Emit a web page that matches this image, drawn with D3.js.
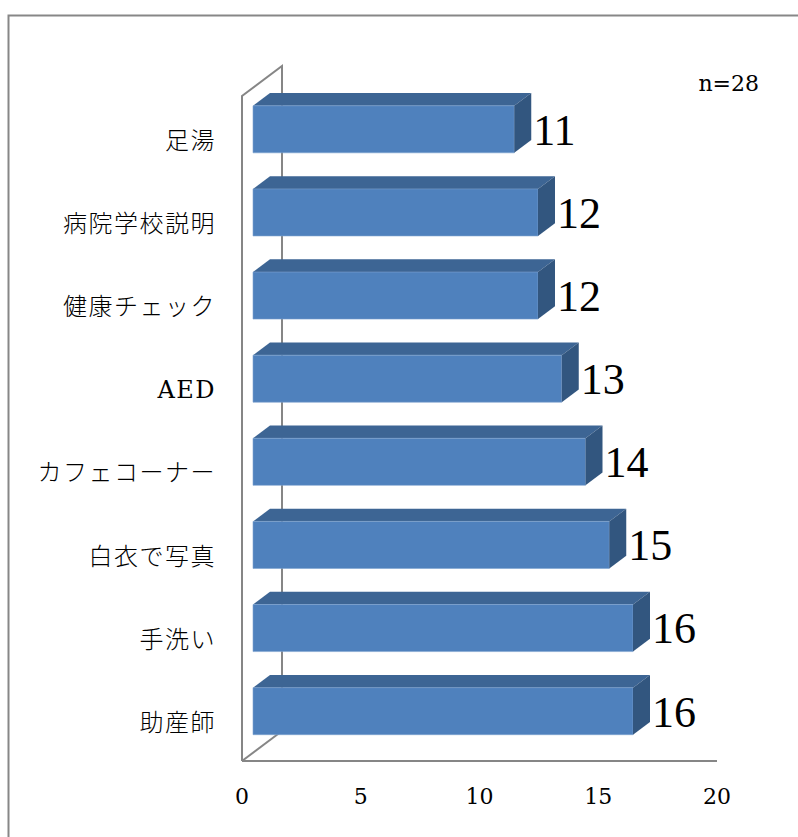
<!DOCTYPE html>
<html>
<head>
<meta charset="utf-8">
<script src="https://cdn.jsdelivr.net/npm/d3@7"></script>
<style>
  body { margin: 0; background: #fff; }
</style>
</head>
<body>
<script>
const categories = ['足湯', '病院学校説明', '健康チェック', 'AED', 'カフェコーナー', '白衣で写真', '手洗い', '助産師'];
const values = [11, 12, 12, 13, 14, 15, 16, 16];
const ticks = [0, 5, 10, 15, 20];
const note = 'n=28';

const dims = { width: 798, height: 837 };
const plot = { left: 242, right: 717, top: 96, bottom: 761 };
const depth = { x: 40, y: 30, front: 0.275, back: 0.7 };

const svg = d3.select('body')
  .append('svg')
  .attr('width', dims.width)
  .attr('height', dims.height)

// outer frame, runs off the right and bottom edge
svg.append('rect')
  .attr('x', 8.5)
  .attr('y', 15.5)
  .attr('width', 900)
  .attr('height', 900)
  .attr('fill', 'none')
  .attr('stroke', '#878787')
  .attr('stroke-width', 2)

const x = d3.scaleLinear()
  .domain([0, 20])
  .range([plot.left, plot.right]);

const y = d3.scaleBand()
  .domain(categories)
  .range([plot.top, plot.bottom])
  .paddingInner(0.434)
  .paddingOuter(0.217);

// point on the floor/wall at depth d (0 = front, 1 = back wall)
const proj = (v, yy, d) => [x(v) + d * depth.x, yy - d * depth.y];
const line = d3.line();

// side wall and floor edges
const wall = svg.append('g')
  .attr('fill', 'none')
  .attr('stroke', '#868686')
  .attr('stroke-width', 2)

wall.append('path')
  .attr('d', line([proj(0, plot.bottom, 0), proj(0, plot.top, 0), proj(0, plot.top, 1), proj(0, plot.bottom, 1)]))
wall.append('path')
  .attr('d', line([proj(0, plot.bottom, 0), proj(0, plot.bottom, 1)]))
wall.append('path')
  .attr('d', line([proj(0, plot.bottom, 0), proj(20, plot.bottom, 0)]))

const bars = svg.append('g')
  .selectAll('g')
  .data(categories.map((c, i) => ({ name: c, value: values[i] })))
  .enter()
  .append('g')

const f = depth.front;
const b = depth.back;

bars.append('path')
  .attr('fill', '#3d6594')
  .attr('d', d => {
    const t = y(d.name);
    return line([proj(0, t, f), proj(d.value, t, f), proj(d.value, t, b), proj(0, t, b)]) + 'Z';
  })

bars.append('path')
  .attr('fill', '#4f81bd')
  .attr('stroke', '#7ea3d0')
  .attr('stroke-width', 0.6)
  .attr('d', d => {
    const t = y(d.name);
    const btm = t + y.bandwidth();
    return line([proj(0, t, f), proj(d.value, t, f), proj(d.value, btm, f), proj(0, btm, f)]) + 'Z';
  })

bars.append('path')
  .attr('fill', '#32567f')
  .attr('d', d => {
    const t = y(d.name);
    const btm = t + y.bandwidth();
    return line([proj(d.value, t, f), proj(d.value, t, b), proj(d.value, btm, b), proj(d.value, btm, f)]) + 'Z';
  })

bars.append('text')
  .attr('x', d => proj(d.value, 0, b)[0] + 2)
  .attr('y', d => proj(0, y(d.name) + y.bandwidth() / 2, f)[1])
  .attr('dy', '0.35em')
  .attr('font-family', '"Liberation Serif", "DejaVu Serif", serif')
  .attr('font-size', 44)
  .attr('fill', '#000')
  .text(d => d.value)

// category labels
svg.append('g')
  .selectAll('text')
  .data(categories)
  .enter()
  .append('text')
  .attr('x', 216)
  .attr('y', d => y(d) + y.bandwidth() / 2 + 3)
  .attr('dy', '0.35em')
  .attr('text-anchor', 'end')
  .attr('font-family', '"DejaVu Serif", "Noto Sans CJK JP", serif')
  .attr('font-weight', 300)
  .attr('font-size', 24)
  .attr('letter-spacing', 1.5)
  .attr('fill', '#000')
  .text(d => d)

// value axis labels
svg.append('g')
  .selectAll('text')
  .data(ticks)
  .enter()
  .append('text')
  .attr('x', d => x(d))
  .attr('y', 804)
  .attr('text-anchor', 'middle')
  .attr('font-family', '"DejaVu Serif", serif')
  .attr('font-size', 22)
  .attr('fill', '#000')
  .text(d => d)

svg.append('text')
  .attr('x', 759)
  .attr('y', 91)
  .attr('text-anchor', 'end')
  .attr('font-family', '"DejaVu Serif", serif')
  .attr('font-size', 22)
  .attr('fill', '#000')
  .text(note)
</script>
</body>
</html>
